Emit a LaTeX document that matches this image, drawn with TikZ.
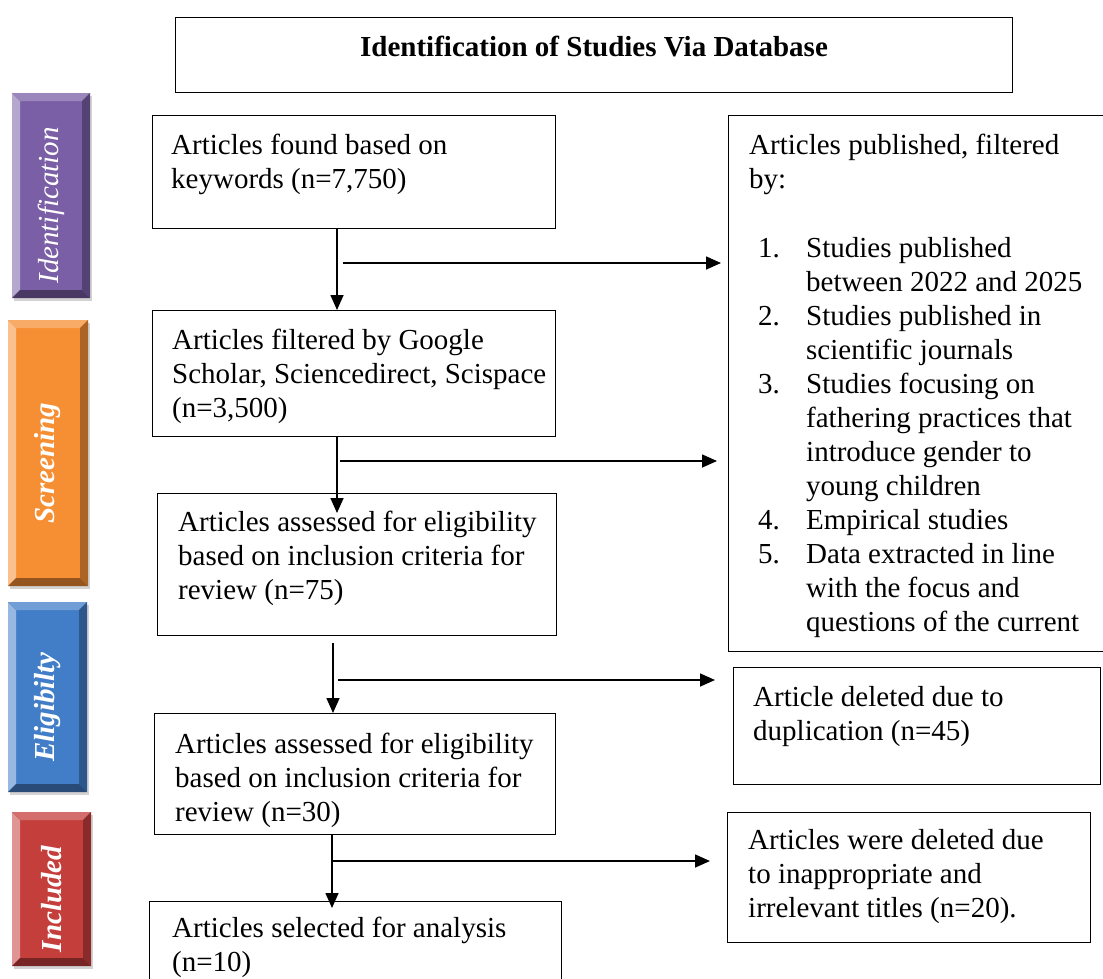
\documentclass[tikz,border=0pt]{standalone}
\usepackage{fontspec}
\setmainfont{Liberation Serif}
\usepackage{tikz}
\usetikzlibrary{arrows.meta,positioning,shadows}
\usepackage{xcolor}

\definecolor{idpurple}{RGB}{122,94,166}
\definecolor{scorange}{RGB}{246,142,52}
\definecolor{elblue}{RGB}{66,126,200}
\definecolor{inred}{RGB}{196,62,60}

\newcommand{\prnum}[1]{\hspace*{9pt}\makebox[48pt][l]{#1}}
\newcommand{\prcont}{\hspace*{57pt}}

\begin{document}
\begin{tikzpicture}[x=1pt, y=-1pt,
  font=\fontsize{29}{34}\selectfont,
  box/.style={draw, line width=1.1pt, inner sep=0pt, anchor=north west},
  txt/.style={inner sep=0pt, align=left},
  arr/.style={line width=1.6pt, -{Triangle[length=15pt,width=13pt]}},
  tab/.style={fill=#1, inner sep=0pt,
    drop shadow={shadow xshift=2pt, shadow yshift=-3pt, opacity=0.35},
    path picture={
      \fill[#1!55!white] (path picture bounding box.north west) -- (path picture bounding box.south west) -- ([shift={(8pt,8pt)}]path picture bounding box.south west) -- ([shift={(8pt,-8pt)}]path picture bounding box.north west) -- cycle;
      \fill[#1!75!white] (path picture bounding box.north west) -- (path picture bounding box.north east) -- ([shift={(-8pt,-8pt)}]path picture bounding box.north east) -- ([shift={(8pt,-8pt)}]path picture bounding box.north west) -- cycle;
      \fill[#1!70!black] (path picture bounding box.north east) -- (path picture bounding box.south east) -- ([shift={(-8pt,8pt)}]path picture bounding box.south east) -- ([shift={(-8pt,-8pt)}]path picture bounding box.north east) -- cycle;
      \fill[#1!60!black] (path picture bounding box.south west) -- (path picture bounding box.south east) -- ([shift={(-8pt,8pt)}]path picture bounding box.south east) -- ([shift={(8pt,8pt)}]path picture bounding box.south west) -- cycle;
    }},
  tabtext/.style={rotate=90, text=white, inner sep=0pt, xshift=-10pt}]
\useasboundingbox (0,0) rectangle (1103,978);
\clip (0,0) rectangle (1103,978);

% stage tabs on the left
\node[tab=idpurple, minimum width=78pt, minimum height=205pt] (tabid) at (51,195.5) {};
\node[tabtext, font=\fontsize{29}{34}\selectfont\itshape] at (tabid.center) {Identification};
\node[tab=scorange, minimum width=80pt, minimum height=266pt] (tabsc) at (48,453) {};
\node[tabtext, font=\fontsize{29}{34}\selectfont\bfseries\itshape] at (tabsc.center) {Screening};
\node[tab=elblue, minimum width=79pt, minimum height=190pt] (tabel) at (47.5,697) {};
\node[tabtext, font=\fontsize{29}{34}\selectfont\bfseries\itshape] at (tabel.center) {Eligibilty};
\node[tab=inred, minimum width=79pt, minimum height=154pt] (tabin) at (51.5,889) {};
\node[tabtext, font=\fontsize{29}{34}\selectfont\bfseries\itshape] at (tabin.center) {Included};

% title
\node[box, minimum width=837pt, minimum height=75pt] (title) at (175,17) {};
\node[inner sep=0pt, anchor=north, font=\fontsize{29}{34}\selectfont\bfseries, below=19pt of title.north] (titletxt) {Identification of Studies Via Database};

% main column
\node[box, minimum width=403pt, minimum height=113pt] (found) at (152,115) {};
\node[txt, below right=19pt and 19pt of found.north west] (foundtxt) {Articles found based on\\keywords (n=7,750)};
\node[box, minimum width=403pt, minimum height=126pt] (filt) at (152,310) {};
\node[txt, below right=19pt and 20pt of filt.north west] (filttxt) {Articles filtered by Google\\Scholar, Sciencedirect, Scispace\\(n=3,500)};
\node[box, minimum width=399pt, minimum height=142pt] (elig1) at (157,493) {};
\node[txt, below right=18pt and 21pt of elig1.north west] (elig1txt) {Articles assessed for eligibility\\based on inclusion criteria for\\review (n=75)};
\node[box, minimum width=401pt, minimum height=121pt] (elig2) at (154,713) {};
\node[txt, below right=20pt and 21pt of elig2.north west] (elig2txt) {Articles assessed for eligibility\\based on inclusion criteria for\\review (n=30)};
\node[box, minimum width=412pt, minimum height=100pt] (sel) at (149,901) {};
\node[txt, below right=16pt and 23pt of sel.north west] (seltxt) {Articles selected for analysis\\(n=10)};

% exclusion column
\node[box, minimum width=390pt, minimum height=536pt] (publ) at (728,115) {};
\node[txt, below right=19pt and 21pt of publ.north west] (publtxt) {Articles published, filtered\\by:\\[35pt]
\prnum{1.}Studies published\\\prcont between 2022 and 2025\\
\prnum{2.}Studies published in\\\prcont scientific journals\\
\prnum{3.}Studies focusing on\\\prcont fathering practices that\\\prcont introduce gender to\\\prcont young children\\
\prnum{4.}Empirical studies\\
\prnum{5.}Data extracted in line\\\prcont with the focus and\\\prcont questions of the current};
\node[box, minimum width=367pt, minimum height=117pt] (dup) at (733,667) {};
\node[txt, below right=19pt and 20pt of dup.north west] (duptxt) {Article deleted due to\\duplication (n=45)};
\node[box, minimum width=363pt, minimum height=130pt] (irr) at (727,812) {};
\node[txt, below right=17pt and 21pt of irr.north west] (irrtxt) {Articles were deleted due\\to inappropriate and\\irrelevant titles (n=20).};

% connectors
\coordinate (v1) at (337,0);
\coordinate (v2) at (337,0);
\coordinate (v3) at (333,0);
\coordinate (v4) at (332,0);
\coordinate (h1) at (343,263);
\coordinate (h2) at (340,461);
\coordinate (h3) at (338,680);
\coordinate (h4) at (333,861);
\draw[arr] (found.south -| v1) -- (filt.north -| v1);
\draw[arr, shorten >=7pt] (h1) -- (h1 -| publ.west);
\draw[arr, shorten >=-20pt] (filt.south -| v2) -- (elig1.north -| v2);
\draw[arr, shorten >=11pt] (h2) -- (h2 -| publ.west);
\draw[arr, shorten <=7pt] (elig1.south -| v3) -- (elig2.north -| v3);
\draw[arr, shorten >=18pt] (h3) -- (h3 -| dup.west);
\draw[arr, shorten >=-7pt] (elig2.south -| v4) -- (sel.north -| v4);
\draw[arr, shorten >=17pt] (h4) -- (h4 -| irr.west);
\end{tikzpicture}
\end{document}
